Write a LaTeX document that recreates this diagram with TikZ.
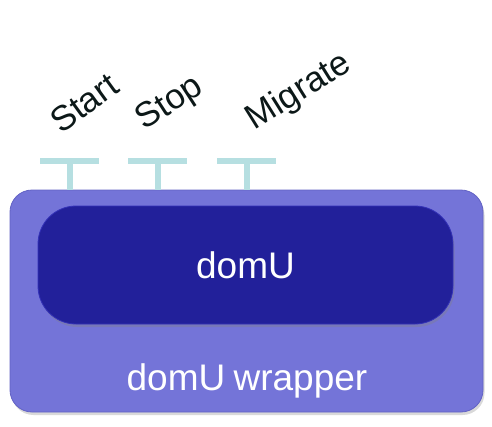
\documentclass[tikz,border=0pt]{standalone}
\usepackage{fontspec}
\setmainfont{Liberation Sans}
\usetikzlibrary{shadows,positioning}
\definecolor{wrapfill}{HTML}{7474D8}
\definecolor{wrapedge}{HTML}{6262C4}
\definecolor{domfill}{HTML}{22209A}
\definecolor{domedge}{HTML}{3432B8}
\definecolor{hook}{HTML}{B6DFE1}
\definecolor{labeltext}{HTML}{0C1818}

\begin{document}
\begin{tikzpicture}[x=1pt,y=-1pt,
  wrapbox/.style={rectangle,rounded corners=22pt,fill=wrapfill,draw=wrapedge,line width=0.8pt,
    minimum width=473pt,minimum height=222pt,
    drop shadow={shadow xshift=1.5pt,shadow yshift=-3pt,opacity=0.3}},
  dombox/.style={rectangle,rounded corners=38pt,fill=domfill,draw=domedge,line width=0.8pt,
    minimum width=415pt,minimum height=118pt,
    drop shadow={shadow xshift=1.5pt,shadow yshift=-3pt,opacity=0.35}},
  boxtext/.style={text=white,font=\fontsize{37pt}{44pt}\selectfont,inner sep=0pt},
  optext/.style={text=labeltext,font=\fontsize{35pt}{42pt}\selectfont,inner sep=0pt},
  hookbar/.style={rectangle,fill=hook,inner sep=0pt,minimum width=59pt,minimum height=6pt},
  hookstem/.style={draw=hook,line width=6pt}]
\useasboundingbox (0,0) rectangle (492,426);

% wrapper and the domain inside it
\node[wrapbox] (wrapper) at (246.5,301) {};
\node[dombox] (domu) at (245.5,265) {};
\node[boxtext] (domutext) at (domu.center) {domU};
\node[boxtext,anchor=base] (wraptext) at (247,390) {domU\hspace{-2pt} wrapper};

% operation hooks on top of the wrapper
\foreach \x/\n in {69.5/start,157.5/stop,246.5/migrate}{
  \node[hookbar] (bar\n) at (\x,161) {};
  \draw[hookstem] (bar\n.south) -- (bar\n.south |- wrapper.north);
}

\node[optext,rotate=36] (start) at (84,103) {Start};
\node[optext,rotate=33] (stop) at (170,104) {Stop};
\node[optext,rotate=32] (migrate) at (299,92) {Migrate};
\end{tikzpicture}
\end{document}
